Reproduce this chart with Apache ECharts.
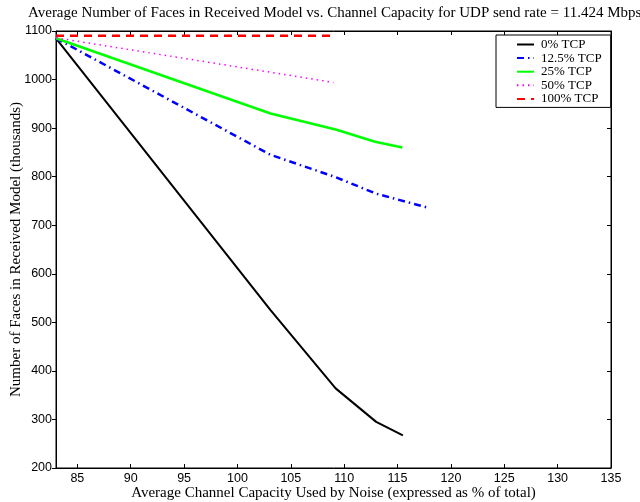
<!DOCTYPE html>
<html>
<head>
<meta charset="utf-8">
<script src="https://cdn.jsdelivr.net/npm/echarts@6/dist/echarts.min.js"></script>
<style>
  html, body { margin: 0; padding: 0; background: #fff; }
  #chart { width: 640px; height: 502px; }
</style>
</head>
<body>
<div id="chart"></div>
<script>
// Channel capacity used by noise (% of total) and received faces (thousands)
const seriesNames = ['0% TCP', '12.5% TCP', '25% TCP', '50% TCP', '100% TCP'];

const tcp0X = [83, 103.1, 109.2, 113.0, 115.5];
const tcp0Y = [1085, 525, 364, 295, 267];

const tcp125X = [83, 103.1, 109.2, 113.0, 117.7];
const tcp125Y = [1085, 845, 799, 765, 737];

const tcp25X = [83, 103.1, 109.2, 112.9, 115.45];
const tcp25Y = [1085, 930, 897, 872, 860];

const tcp50X = [83, 103.1, 109.0];
const tcp50Y = [1086, 1015, 994];

const tcp100X = [83, 103.1, 109.0];
const tcp100Y = [1090, 1090, 1090];

const xTicks = [85, 90, 95, 100, 105, 110, 115, 120, 125, 130, 135];
const yTicks = [200, 300, 400, 500, 600, 700, 800, 900, 1000, 1100];

const pairs = (xs, ys) => xs.map((x, i) => [x, ys[i]]);

const serif = 'Liberation Serif';
const sans = 'Liberation Sans';

const chart = echarts.init(document.getElementById('chart'), null, { renderer: 'canvas' });

const lineSeries = (name, xs, ys, color, width, type) => ({
  name: name,
  type: 'line',
  data: pairs(xs, ys),
  symbol: 'none',
  smooth: false,
  lineStyle: { color: color, width: width, type: type, cap: 'butt' },
  itemStyle: { color: color },
  emphasis: { disabled: true },
  xAxisIndex: 0,
  yAxisIndex: 0
});

chart.setOption({
  animation: false,
  backgroundColor: '#fff',
  title: {
    text: 'Average Number of Faces in Received Model vs. Channel Capacity for UDP send rate = 11.424 Mbps',
    left: 28,
    top: 6,
    padding: 0,
    textStyle: { fontFamily: serif, fontSize: 15, fontWeight: 'normal', color: '#000' }
  },
  grid: {
    left: 56, right: 29, top: 31, bottom: 34,
    containLabel: false, outerBoundsMode: 'none',
    show: true, borderColor: '#000', borderWidth: 1, backgroundColor: 'transparent'
  },
  legend: {
    orient: 'vertical',
    left: 496,
    top: 35,
    padding: [3, 9, 2, 20],
    backgroundColor: '#fff',
    borderColor: '#000',
    borderWidth: 1,
    itemWidth: 17,
    itemHeight: 12,
    itemGap: 0.6,
    selectedMode: false,
    data: seriesNames,
    itemStyle: { opacity: 0 },
    textStyle: { fontFamily: serif, fontSize: 13, color: '#000', lineHeight: 13, padding: [0, 0, 0, 2] }
  },
  xAxis: [
    {
      type: 'value', min: 83, max: 135, position: 'bottom',
      name: 'Average Channel Capacity Used by Noise (expressed as % of total)',
      nameLocation: 'middle', nameGap: 18, nameMoveOverlap: false,
      nameTextStyle: { fontFamily: serif, fontSize: 15, color: '#000' },
      axisLine: { show: true, lineStyle: { color: '#000', width: 1 } },
      axisTick: { show: true, inside: true, length: 4, customValues: xTicks, lineStyle: { color: '#000' } },
      axisLabel: { customValues: xTicks, fontFamily: sans, fontSize: 12.5, color: '#000', margin: 4, formatter: v => String(v) },
      splitLine: { show: false }
    },
    {
      type: 'value', min: 83, max: 135, position: 'top',
      axisLine: { show: true, lineStyle: { color: '#000', width: 1 } },
      axisTick: { show: true, inside: true, length: 4, customValues: xTicks, lineStyle: { color: '#000' } },
      axisLabel: { show: false },
      splitLine: { show: false }
    }
  ],
  yAxis: [
    {
      type: 'value', min: 200, max: 1100, interval: 100, position: 'left',
      name: 'Number of Faces in Received Model (thousands)',
      nameLocation: 'middle', nameGap: 32, nameMoveOverlap: false,
      nameTextStyle: { fontFamily: serif, fontSize: 15, color: '#000' },
      axisLine: { show: true, lineStyle: { color: '#000', width: 1 } },
      axisTick: { show: true, inside: false, length: 4, customValues: yTicks, lineStyle: { color: '#000' } },
      axisLabel: { customValues: yTicks, fontFamily: sans, fontSize: 12.5, color: '#000', margin: 4, formatter: v => String(v) },
      splitLine: { show: false }
    },
    {
      type: 'value', min: 200, max: 1100, interval: 100, position: 'right',
      axisLine: { show: true, lineStyle: { color: '#000', width: 1 } },
      axisTick: { show: true, inside: true, length: 4, customValues: yTicks, lineStyle: { color: '#000' } },
      axisLabel: { show: false },
      splitLine: { show: false }
    }
  ],
  series: [
    lineSeries(seriesNames[0], tcp0X, tcp0Y, '#000000', 2, 'solid'),
    lineSeries(seriesNames[1], tcp125X, tcp125Y, '#0000ff', 2.5, [7, 4, 1.5, 4]),
    lineSeries(seriesNames[2], tcp25X, tcp25Y, '#00ff00', 2.5, 'solid'),
    lineSeries(seriesNames[3], tcp50X, tcp50Y, '#ff00ff', 1.5, [1.5, 4]),
    lineSeries(seriesNames[4], tcp100X, tcp100Y, '#ff0000', 2.5, [8, 6])
  ]
});
</script>
</body>
</html>
